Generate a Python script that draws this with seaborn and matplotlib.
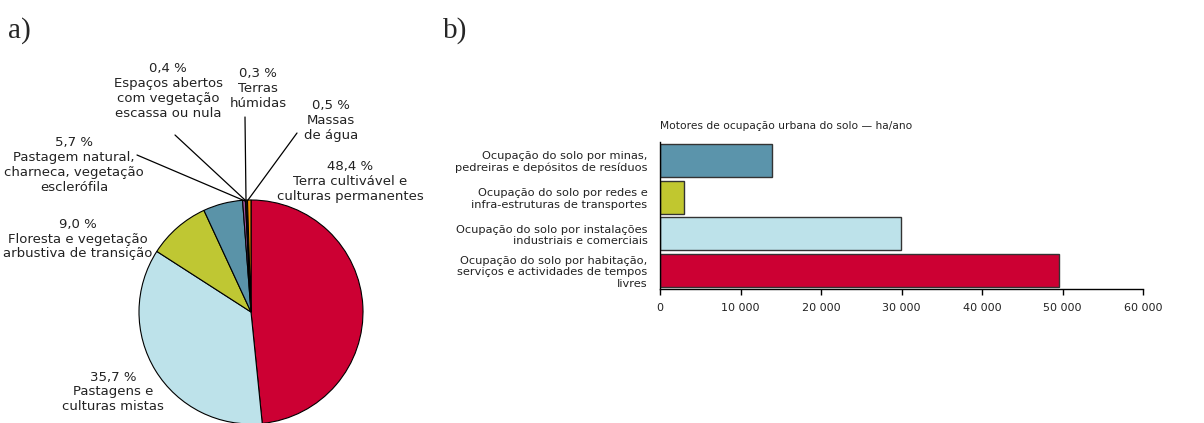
"""Land cover shares (pie) and urban land take drivers (bars), two panels."""

import pandas as pd
import matplotlib
matplotlib.use('Agg')
import matplotlib.pyplot as plt
import seaborn as sns

# Panel a) land cover shares, clockwise from 12 o'clock
pie_values = [48.4, 35.7, 9.0, 5.7, 0.4, 0.3, 0.5]
pie_labels = [
    '48,4 %\nTerra cultivável e\nculturas permanentes',
    '35,7 %\nPastagens e\nculturas mistas',
    '9,0 %\nFloresta e vegetação\narbustiva de transição',
    '5,7 %\nPastagem natural,\ncharneca, vegetação\nesclerófila',
    '0,4 %\nEspaços abertos\ncom vegetação\nescassa ou nula',
    '0,3 %\nTerras\nhúmidas',
    '0,5 %\nMassas\nde água',
]
pie_colors = ['#CC0033', '#BDE2EA', '#BFC733', '#5A93A8', '#A0529A', '#111111', '#F39200']

# Panel b) drivers of urban land take, ha/year
bar_categories = [
    'Ocupação do solo por minas,\npedreiras e depósitos de resíduos',
    'Ocupação do solo por redes e\ninfra-estruturas de transportes',
    'Ocupação do solo por instalações\nindustriais e comerciais',
    'Ocupação do solo por habitação,\nserviços e actividades de tempos\nlivres',
]
bar_values = [13900, 3000, 29900, 49600]
bar_colors = ['#5B94AB', '#C1C72F', '#BDE2EA', '#CC0033']
x_ticks = [0, 10000, 20000, 30000, 40000, 50000, 60000]
x_ticklabels = ['0', '10 000', '20 000', '30 000', '40 000', '50 000', '60 000']

sns.set_style('white')
plt.rcParams['font.family'] = ['DejaVu Sans']

W, H = 1204, 423
fig = plt.figure(figsize=(W / 100, H / 100), dpi=100)

# ---- pie (center ~ (251, 312) px, radius ~112 px)
cx, cy, r = 251, 312, 112
ax1 = fig.add_axes([(cx - r) / W, (H - cy - r) / H, 2 * r / W, 2 * r / H])
ax1.pie(pie_values, colors=pie_colors, startangle=90, counterclock=False,
        wedgeprops=dict(edgecolor='black', linewidth=0.8))
ax1.set_xlim(-1, 1)
ax1.set_ylim(-1, 1)
ax1.set_aspect('equal')


def px(x, y):
    # image pixel -> pie data coords
    return ((x - cx) / r, (cy - y) / r)


# label centre (px) and optional leader-line start / end (px)
label_pos = [
    ((350, 181), None),
    ((113, 392), None),
    ((78, 239), None),
    ((74, 165), ((137, 155), (245, 201))),
    ((168, 91), ((175, 135), (245, 200))),
    ((258, 88), ((245, 117), (246, 200))),
    ((331, 120), ((297, 133), (248, 200))),
]
for text, (center, line) in zip(pie_labels, label_pos):
    ax1.text(*px(*center), text, ha='center', va='center', fontsize=9.5,
             linespacing=1.2, color='#222222', clip_on=False)
    if line is not None:
        ax1.annotate('', xy=px(*line[1]), xytext=px(*line[0]),
                     arrowprops=dict(arrowstyle='-', color='black', lw=0.9,
                                     shrinkA=0, shrinkB=0),
                     annotation_clip=False)

fig.text(8 / W, 1 - 31 / H, 'a)', fontsize=21, family='Liberation Serif', va='center')
fig.text(443 / W, 1 - 31 / H, 'b)', fontsize=21, family='Liberation Serif', va='center')

# ---- bars
ax2 = fig.add_axes([660 / W, (H - 289) / H, 483 / W, 147 / H])
df = pd.DataFrame({'cat': bar_categories, 'val': bar_values})
sns.barplot(data=df, y='cat', x='val', hue='cat', palette=bar_colors, orient='h',
            width=0.9, saturation=1, edgecolor='#333333', linewidth=1,
            legend=False, ax=ax2)
ax2.set_xlim(0, 60000)
ax2.set_ylim(3.5, -0.5)
ax2.set_xticks(x_ticks)
ax2.set_xticklabels(x_ticklabels, fontsize=8, color='#222222')
ax2.tick_params(axis='y', length=0, labelsize=8.2, pad=9, labelcolor='#222222')
ax2.tick_params(axis='x', direction='out', length=4, width=1, color='black', bottom=True, pad=6)
for lbl in ax2.get_yticklabels():
    lbl.set_horizontalalignment('right')
    lbl.set_multialignment('right')
    lbl.set_linespacing(1.2)
ax2.set_xlabel('')
ax2.set_ylabel('')
for s in ['top', 'right']:
    ax2.spines[s].set_visible(False)
for s in ['bottom', 'left']:
    ax2.spines[s].set_color('black')
    ax2.spines[s].set_linewidth(1)
ax2.text(0, 1.11, 'Motores de ocupação urbana do solo — ha/ano', transform=ax2.transAxes,
         fontsize=7.7, color='#222222', ha='left', va='center')

fig.savefig('out.png', dpi=100)
